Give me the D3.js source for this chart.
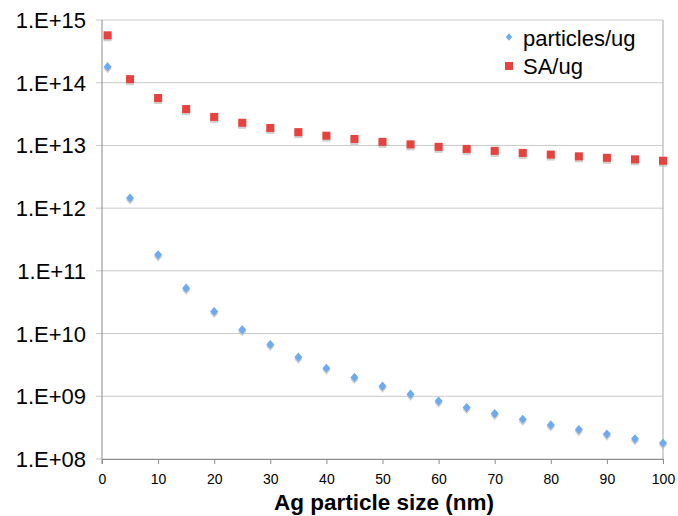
<!DOCTYPE html>
<html>
<head>
<meta charset="utf-8">
<script src="https://cdn.jsdelivr.net/npm/d3@7"></script>
<style>
  body { margin: 0; background: #fff; }
  svg { font-family: "Liberation Sans", Arial, Helvetica, sans-serif; }
</style>
</head>
<body>
<svg width="678" height="516"></svg>
<script>
// values
const sizes = [1, 5, 10, 15, 20, 25, 30, 35, 40, 45, 50, 55, 60, 65, 70, 75, 80, 85, 90, 95, 100];
const particles = [1.8e14, 1.45e12, 1.8e11, 5.3e10, 2.25e10, 1.15e10, 6.7e9, 4.2e9, 2.8e9, 2.0e9, 1.45e9,
  1.08e9, 8.4e8, 6.6e8, 5.3e8, 4.3e8, 3.5e8, 2.95e8, 2.5e8, 2.1e8, 1.8e8];
const saPerUg = [5.7e14, 1.14e14, 5.7e13, 3.8e13, 2.85e13, 2.3e13, 1.9e13, 1.63e13, 1.43e13, 1.27e13, 1.14e13,
  1.04e13, 9.5e12, 8.8e12, 8.2e12, 7.6e12, 7.15e12, 6.7e12, 6.35e12, 6.0e12, 5.7e12];
const xTicks = [0, 10, 20, 30, 40, 50, 60, 70, 80, 90, 100];
const yTicks = [1e8, 1e9, 1e10, 1e11, 1e12, 1e13, 1e14, 1e15];
const yTickLabels = ['1.E+08', '1.E+09', '1.E+10', '1.E+11', '1.E+12', '1.E+13', '1.E+14', '1.E+15'];

const svg = d3.select('svg');
const x = d3.scaleLinear().domain([0, 100]).range([102, 663]);
const y = d3.scaleLog().domain([1e8, 1e15]).range([459, 20]);

// gridlines + left ticks
svg.append('g')
  .selectAll('line')
  .data(yTicks)
  .join('line')
  .attr('x1', 96).attr('x2', 663)
  .attr('y1', d => y(d)).attr('y2', d => y(d))
  .attr('stroke', '#c9c9c9').attr('stroke-width', 1);

// y labels
svg.append('g')
  .selectAll('text')
  .data(yTicks)
  .join('text')
  .attr('x', 86)
  .attr('y', d => y(d) + 8)
  .attr('text-anchor', 'end')
  .attr('font-size', 22)
  .text((d, i) => yTickLabels[i]);

// x axis
const xAxis = svg.append('g')
  .attr('transform', `translate(0,${y(1e8)})`)
  .call(d3.axisBottom(x).tickValues(xTicks).tickSize(5).tickPadding(10).tickSizeOuter(0));
xAxis.select('.domain').attr('stroke', '#8c8c8c');
xAxis.selectAll('.tick line').attr('stroke', '#8c8c8c');
xAxis.selectAll('.tick text')
  .attr('font-family', '"Liberation Sans", Arial, sans-serif')
  .attr('font-size', 14).attr('fill', '#000');

// left axis and right border
svg.append('line')
  .attr('x1', x(0)).attr('x2', x(0)).attr('y1', y(1e15)).attr('y2', y(1e8) + 5)
  .attr('stroke', '#8c8c8c');
svg.append('line')
  .attr('x1', x(100)).attr('x2', x(100)).attr('y1', y(1e15)).attr('y2', y(1e8))
  .attr('stroke', '#a8a8a8');

svg.append('text')
  .attr('x', 384).attr('y', 510)
  .attr('text-anchor', 'middle')
  .attr('font-size', 22.5).attr('font-weight', 'bold')
  .text('Ag particle size (nm)');

// rotated square, a little taller than wide
const diamond = 'M0,-4.6L4,0L0,4.6L-4,0Z';

function drawSquares(g, data, color) {
  g.selectAll('rect.shadow').data(data).join('rect').attr('class', 'shadow')
    .attr('x', d => x(d[0]) - 4).attr('y', d => y(d[1]) - 2)
    .attr('width', 8).attr('height', 8).attr('fill', '#bbb').attr('opacity', 0.7);
  g.selectAll('rect.mark').data(data).join('rect').attr('class', 'mark')
    .attr('x', d => x(d[0]) - 4).attr('y', d => y(d[1]) - 4)
    .attr('width', 8).attr('height', 8).attr('fill', color);
}
function drawDiamonds(g, data, color) {
  g.selectAll('path.shadow').data(data).join('path').attr('class', 'shadow')
    .attr('transform', d => `translate(${x(d[0])},${y(d[1]) + 2})`)
    .attr('d', diamond).attr('fill', '#bbb').attr('opacity', 0.7);
  g.selectAll('path.mark').data(data).join('path').attr('class', 'mark')
    .attr('transform', d => `translate(${x(d[0])},${y(d[1])})`)
    .attr('d', diamond).attr('fill', color);
}

const red = '#e8413e';
const blue = '#6eaaf0';
drawSquares(svg.append('g'), sizes.map((s, i) => [s, saPerUg[i]]), red);
drawDiamonds(svg.append('g'), sizes.map((s, i) => [s, particles[i]]), blue);

// legend
const legend = svg.append('g');
legend.append('path').attr('transform', 'translate(509,37) scale(0.8)').attr('d', diamond).attr('fill', blue);
legend.append('rect').attr('x', 505).attr('y', 62).attr('width', 8).attr('height', 8).attr('fill', red);
legend.append('text').attr('x', 523).attr('y', 46).attr('font-size', 22).text('particles/ug');
legend.append('text').attr('x', 523).attr('y', 74).attr('font-size', 22).text('SA/ug');
</script>
</body>
</html>
